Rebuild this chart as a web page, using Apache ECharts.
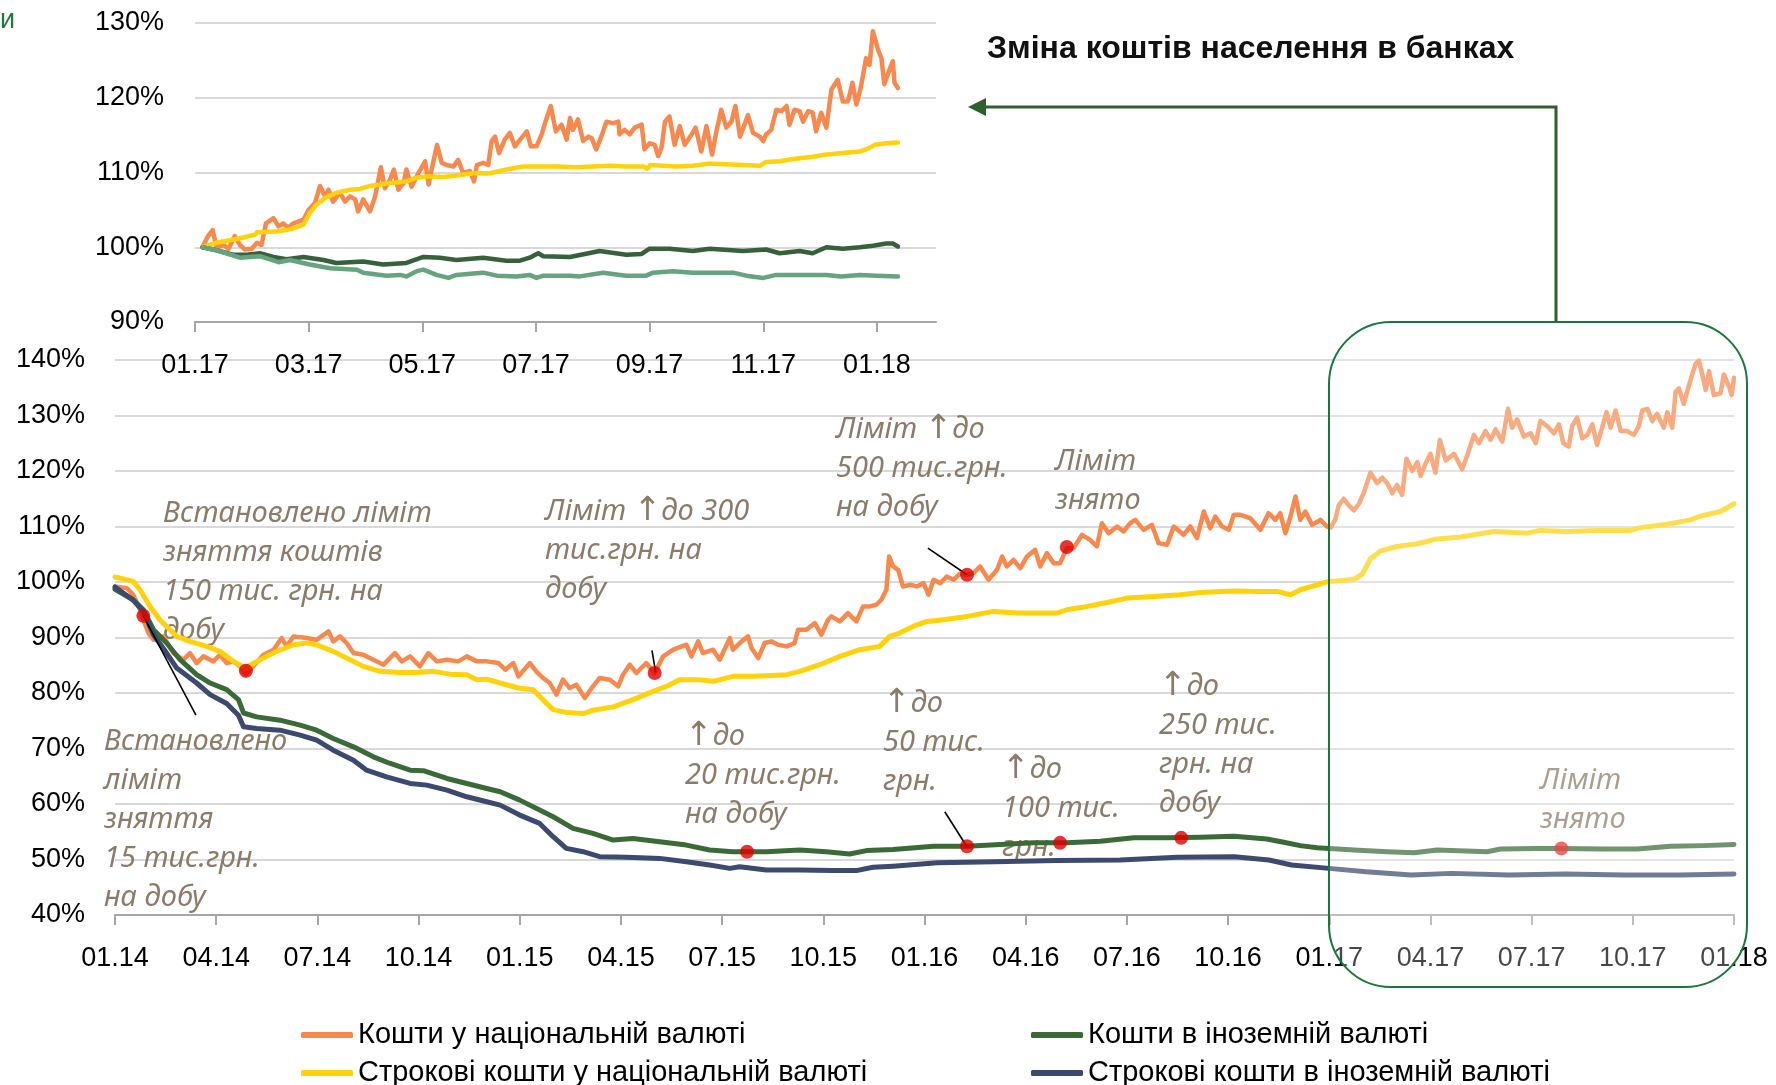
<!DOCTYPE html>
<html>
<head>
<meta charset="utf-8">
<script src="https://cdn.jsdelivr.net/npm/echarts@6/dist/echarts.min.js"></script>
<style>
html,body{margin:0;padding:0;background:#fff;}
#chart{width:1776px;height:1085px;}
</style>
</head>
<body>
<div id="chart"></div>
<script>
// ---------- DATA ----------
const seriesNames = ['Кошти у національній валюті', 'Кошти в іноземній валюті', 'Строкові кошти у національній валюті', 'Строкові кошти в іноземній валюті'];
const titleText = 'Зміна коштів населення в банках';
// main chart: x = months since 01.2014, y = % of 01.2014 level
const mainTickLabels = ['01.14','04.14','07.14','10.14','01.15','04.15','07.15','10.15','01.16','04.16','07.16','10.16','01.17','04.17','07.17','10.17','01.18'];
const insetTickLabels = ['01.17','03.17','05.17','07.17','09.17','11.17','01.18'];

const mainNational = [[0,99.2],[0.35,98.9],[0.54,97.7],[0.74,95.0],[0.84,93.2],[0.99,90.8],[1.14,89.6],[1.43,90.2],[1.73,87.2],[2.03,86.0],[2.22,87.2],[2.42,85.4],[2.62,86.6],[2.92,85.7],[3.11,86.9],[3.31,85.4],[3.51,85.7],[3.71,84.8],[3.88,83.3],[4.1,84.8],[4.4,86.9],[4.7,87.8],[4.94,89.9],[5.09,88.4],[5.29,90.2],[5.68,89.9],[5.98,89.6],[6.33,91.1],[6.47,89.3],[6.67,90.2],[6.87,89.0],[7.07,87.2],[7.36,86.9],[7.66,86.0],[7.96,85.1],[8.3,87.2],[8.5,85.7],[8.75,86.6],[9.04,84.8],[9.29,87.2],[9.54,85.7],[9.84,86.0],[10.18,85.7],[10.43,86.6],[10.73,85.7],[11.02,85.7],[11.37,85.4],[11.57,84.2],[11.81,85.4],[11.96,83.0],[12.3,85.4],[12.49,83.9],[12.69,82.7],[12.89,81.8],[13.09,79.7],[13.28,82.4],[13.48,80.9],[13.68,81.5],[13.93,79.1],[14.17,81.2],[14.37,82.7],[14.67,82.4],[14.92,81.2],[15.06,83.3],[15.26,85.1],[15.46,83.6],[15.75,85.4],[16.0,83.6],[16.25,86.6],[16.55,87.8],[16.94,88.7],[17.09,86.6],[17.29,89.3],[17.43,87.2],[17.73,87.8],[17.93,86.0],[18.23,89.9],[18.32,87.8],[18.52,89.0],[18.77,90.2],[18.87,88.1],[19.07,86.3],[19.26,89.0],[19.46,89.3],[19.66,88.7],[19.91,88.4],[20.15,89.0],[20.25,91.4],[20.5,91.4],[20.75,92.6],[20.94,90.5],[21.14,93.2],[21.24,93.8],[21.49,92.9],[21.73,94.4],[21.98,92.9],[22.18,95.6],[22.38,95.6],[22.57,95.9],[22.72,96.8],[22.87,98.6],[22.95,104.6],[23.07,102.8],[23.22,102.2],[23.36,99.2],[23.58,99.5],[23.77,99.2],[23.97,99.8],[24.12,97.7],[24.27,100.4],[24.47,99.8],[24.66,101.0],[24.86,100.4],[25.05,101.5],[25.26,101.3],[25.45,101.6],[25.65,102.8],[25.9,100.4],[26.15,102.2],[26.3,104.6],[26.44,102.8],[26.64,104.0],[26.84,102.5],[27.04,104.6],[27.28,105.8],[27.43,102.8],[27.63,105.2],[27.83,103.4],[28.02,103.4],[28.22,106.1],[28.42,106.1],[28.67,108.5],[28.91,107.6],[29.11,106.4],[29.26,110.6],[29.46,108.8],[29.71,110.0],[29.9,109.1],[30.1,110.6],[30.25,111.2],[30.5,109.4],[30.74,110.3],[30.94,107.0],[31.19,106.7],[31.39,110.0],[31.68,108.5],[31.88,110.0],[32.08,107.9],[32.28,112.7],[32.47,109.7],[32.62,111.8],[32.82,110.0],[33.02,109.4],[33.17,112.1],[33.36,112.1],[33.66,111.5],[33.96,109.4],[34.2,112.4],[34.4,111.2],[34.55,112.4],[34.7,108.8],[34.85,111.8],[35.0,115.4],[35.14,111.2],[35.29,112.7],[35.49,110.3],[35.74,111.2],[35.93,110.0],[36.04,109.8],[36.18,111.3],[36.28,113.8],[36.43,115.0],[36.58,113.8],[36.73,112.9],[36.88,114.1],[37.02,116.0],[37.22,119.7],[37.42,117.8],[37.57,118.8],[37.72,117.8],[37.87,116.0],[38.01,117.5],[38.16,115.7],[38.29,122.2],[38.46,120.0],[38.61,121.6],[38.71,119.1],[38.85,121.3],[39.0,123.1],[39.15,119.7],[39.28,125.6],[39.45,121.9],[39.7,123.1],[39.94,120.3],[40.09,122.8],[40.29,126.5],[40.44,125.0],[40.63,127.2],[40.78,125.6],[40.93,127.5],[41.13,125.3],[41.3,131.2],[41.42,127.8],[41.57,129.3],[41.77,126.2],[41.97,126.8],[42.12,125.0],[42.26,129.0],[42.46,128.1],[42.66,126.8],[42.81,128.4],[42.94,125.0],[43.1,124.4],[43.2,128.1],[43.35,129.6],[43.5,125.9],[43.65,126.5],[43.8,128.4],[43.94,124.7],[44.09,127.8],[44.22,130.6],[44.34,127.8],[44.49,130.9],[44.64,127.2],[44.83,127.2],[45.03,126.5],[45.18,128.1],[45.28,130.9],[45.43,131.2],[45.58,129.0],[45.72,130.3],[45.92,127.8],[46.02,130.6],[46.17,127.8],[46.27,134.3],[46.37,134.9],[46.51,132.1],[46.61,134.3],[46.73,136.8],[46.86,139.3],[46.96,139.9],[47.06,137.4],[47.16,134.6],[47.26,138.0],[47.4,133.7],[47.6,134.0],[47.7,137.4],[47.85,135.2],[47.93,133.7],[48.0,136.8]];

const mainTermNational = [[0,100.9],[0.54,100.1],[0.74,98.6],[1.04,95.6],[1.33,93.2],[1.83,90.2],[2.22,89.3],[2.72,88.4],[3.11,87.5],[3.51,85.7],[3.86,84.5],[4.3,86.0],[4.79,87.5],[5.29,88.7],[5.68,89.0],[5.98,88.7],[6.47,87.5],[6.97,86.0],[7.36,84.8],[7.86,83.9],[8.45,83.7],[8.95,83.7],[9.44,83.9],[9.93,83.4],[10.43,83.3],[10.73,82.4],[11.02,82.5],[11.42,81.8],[11.96,80.9],[12.4,80.6],[12.69,78.8],[12.99,77.0],[13.38,76.5],[13.88,76.3],[14.17,76.9],[14.77,77.5],[15.36,78.8],[15.95,80.3],[16.35,81.2],[16.74,82.4],[17.34,82.4],[17.73,82.1],[18.32,83.0],[18.92,83.0],[19.31,83.1],[19.91,83.3],[20.3,83.9],[20.89,85.1],[21.49,86.6],[22.08,87.8],[22.67,88.4],[22.97,90.2],[23.26,90.8],[23.66,92.0],[24.07,92.9],[24.57,93.2],[25.26,93.8],[26.05,94.7],[26.74,94.4],[27.43,94.4],[27.93,94.4],[28.22,95.0],[28.82,95.6],[29.41,96.3],[30.0,97.1],[30.79,97.4],[31.58,97.7],[32.18,98.1],[33.17,98.4],[33.96,98.3],[34.45,98.3],[34.85,97.7],[35.14,98.6],[35.64,99.5],[35.98,100.1],[36.23,100.2],[36.73,100.5],[36.98,101.4],[37.22,104.2],[37.52,105.6],[38.01,106.4],[38.61,106.9],[38.9,107.3],[39.1,107.7],[39.89,108.1],[40.29,108.5],[40.88,109.1],[41.87,108.8],[42.26,109.3],[43.05,109.1],[43.94,109.3],[44.93,109.3],[45.23,109.8],[46.02,110.4],[46.71,111.2],[47.01,111.9],[47.6,112.7],[48.0,114.1]];

const mainForeign = [[0,98.7],[0.54,96.8],[0.84,95.0],[1.14,91.4],[1.53,89.0],[1.93,86.0],[2.42,83.3],[2.82,81.8],[3.31,80.6],[3.66,78.8],[3.81,76.4],[4.2,75.7],[4.89,75.1],[5.49,74.2],[5.98,73.3],[6.47,71.8],[7.07,70.3],[7.66,68.5],[8.16,67.3],[8.75,66.1],[9.14,66.0],[9.84,64.6],[10.43,63.7],[11.02,62.8],[11.42,62.2],[12.0,60.7],[12.59,58.9],[12.99,57.7],[13.58,55.6],[14.17,54.7],[14.77,53.5],[15.36,53.8],[16.15,53.2],[16.94,52.6],[17.63,51.7],[18.32,51.4],[19.31,51.4],[20.3,51.7],[21.09,51.4],[21.78,51.0],[22.28,51.6],[23.07,51.8],[24.27,52.4],[25.26,52.4],[26.25,52.7],[27.23,53.0],[28.22,53.0],[29.21,53.3],[30.2,53.9],[31.19,53.9],[32.18,54.0],[33.17,54.2],[34.15,53.7],[34.65,53.1],[35.14,52.5],[35.64,52.1],[36.73,51.7],[37.72,51.4],[38.51,51.2],[39.2,51.7],[40.68,51.4],[41.08,51.9],[42.17,52.0],[42.86,52.0],[44.14,51.9],[45.13,51.9],[46.12,52.4],[47.11,52.5],[48.0,52.7]];

const mainTermForeign = [[0,99.1],[0.54,96.7],[0.84,94.7],[1.14,90.5],[1.53,87.2],[1.83,84.5],[2.42,81.8],[2.82,79.7],[3.31,78.1],[3.66,76.0],[3.81,73.9],[4.2,73.6],[4.89,73.3],[5.49,72.4],[5.98,71.5],[6.47,69.7],[7.07,67.9],[7.46,66.1],[8.05,64.9],[8.75,63.7],[9.24,63.4],[9.84,62.5],[10.43,61.3],[11.02,60.4],[11.42,59.8],[12.0,58.0],[12.59,56.5],[12.99,54.1],[13.38,52.0],[13.88,51.4],[14.37,50.5],[15.16,50.4],[16.15,50.2],[16.94,49.6],[17.63,49.0],[18.23,48.4],[18.52,48.7],[19.31,48.1],[20.3,48.1],[21.29,48.0],[21.98,48.0],[22.47,48.6],[23.07,48.8],[24.38,49.4],[26.07,49.6],[27.9,49.8],[29.8,49.9],[31.5,50.4],[33.19,50.5],[34.21,49.9],[34.88,49.0],[35.99,48.4],[37.09,47.8],[38.43,47.2],[39.62,47.5],[41.33,47.2],[43.02,47.4],[44.72,47.2],[46.41,47.2],[48.0,47.4]];

// event markers (red dots) and leader lines, in data units of the main chart
const eventDots = [[0.84,93.9],[3.88,84.0],[16.0,83.6],[25.26,101.3],[28.22,106.3],[18.74,51.4],[25.26,52.4],[28.02,53.0],[31.61,53.9],[42.88,52.0]];
const leaderLines = [[[0.84,93.9],[2.40,76.0]],[[15.92,87.7],[16.03,83.7]],[[24.1,106.1],[25.26,101.3]],[[24.6,58.6],[25.26,52.3]]];

// inset chart: x = months since 01.2017, y = % of 01.2017 level
const insetNational = [[0.13,100.0],[0.23,101.5],[0.31,102.3],[0.38,100.0],[0.5,100.3],[0.59,99.8],[0.7,101.5],[0.79,100.3],[0.88,99.7],[1.0,99.8],[1.09,100.6],[1.17,100.3],[1.25,103.2],[1.38,103.9],[1.47,102.8],[1.55,103.2],[1.64,102.6],[1.73,103.2],[1.91,103.7],[2.0,105.0],[2.11,105.9],[2.2,108.2],[2.29,106.8],[2.35,107.7],[2.43,106.1],[2.55,107.3],[2.64,106.1],[2.73,106.8],[2.82,106.4],[2.87,104.8],[2.96,106.4],[3.08,104.8],[3.17,106.8],[3.27,110.7],[3.34,107.9],[3.43,109.0],[3.5,110.4],[3.58,107.7],[3.67,108.6],[3.72,110.4],[3.81,108.1],[3.93,109.9],[4.05,111.5],[4.11,108.4],[4.19,111.3],[4.26,113.7],[4.34,111.3],[4.43,111.0],[4.55,110.8],[4.63,111.7],[4.72,109.9],[4.84,110.2],[4.91,108.8],[4.96,111.0],[5.07,111.3],[5.16,111.0],[5.22,114.2],[5.28,114.8],[5.35,112.6],[5.45,114.4],[5.54,115.3],[5.63,113.5],[5.72,114.4],[5.84,115.5],[5.91,113.5],[6.01,113.5],[6.1,115.1],[6.18,117.1],[6.26,118.9],[6.35,115.5],[6.45,116.4],[6.54,114.4],[6.6,117.3],[6.65,115.7],[6.74,117.1],[6.83,114.2],[6.92,114.8],[6.98,114.6],[7.06,113.1],[7.15,114.8],[7.24,116.8],[7.36,116.6],[7.45,116.8],[7.47,115.1],[7.56,115.7],[7.65,115.1],[7.74,116.0],[7.86,116.4],[7.91,113.1],[8.0,113.9],[8.09,113.7],[8.15,112.2],[8.21,113.3],[8.27,116.8],[8.35,117.5],[8.44,113.7],[8.53,116.2],[8.62,113.7],[8.74,115.1],[8.81,116.0],[8.91,112.8],[9.0,116.2],[9.1,112.4],[9.17,115.3],[9.26,118.4],[9.35,116.0],[9.44,116.8],[9.51,118.9],[9.59,114.8],[9.67,116.4],[9.73,117.7],[9.82,115.3],[9.94,114.8],[10.0,114.2],[10.05,115.1],[10.14,115.7],[10.23,118.4],[10.32,118.2],[10.41,118.9],[10.46,116.4],[10.55,118.4],[10.64,118.2],[10.7,116.8],[10.79,118.2],[10.87,118.0],[10.93,115.5],[11.02,118.0],[11.11,116.0],[11.2,121.1],[11.31,122.4],[11.4,119.5],[11.49,119.5],[11.57,122.0],[11.64,119.1],[11.72,121.5],[11.81,125.3],[11.87,124.4],[11.93,128.9],[12.02,126.4],[12.08,125.3],[12.13,121.8],[12.19,123.1],[12.28,124.9],[12.31,122.0],[12.37,121.3]];

const insetTermNational = [[0.13,100.0],[0.38,100.6],[0.79,101.2],[1.06,101.7],[1.09,102.0],[1.44,102.1],[1.67,102.4],[1.91,103.0],[2.02,104.6],[2.14,105.7],[2.29,106.6],[2.49,107.3],[2.73,107.7],[2.9,107.8],[3.08,108.2],[3.43,108.6],[3.72,108.8],[3.9,109.3],[4.08,109.5],[4.37,109.4],[4.6,109.6],[4.9,109.9],[5.19,109.9],[5.48,110.4],[5.77,110.8],[6.07,110.8],[6.36,110.8],[6.71,110.7],[7.0,110.8],[7.3,110.9],[7.59,110.8],[7.89,110.8],[7.96,110.5],[8.01,111.0],[8.47,110.8],[8.76,110.9],[9.06,111.2],[9.35,111.1],[9.64,111.0],[9.94,110.9],[10.05,111.4],[10.29,111.5],[10.52,111.8],[10.87,112.1],[11.11,112.4],[11.4,112.6],[11.7,112.8],[11.87,113.3],[11.96,113.7],[12.16,113.9],[12.37,114.0]];

const insetForeign = [[0.13,100.0],[0.38,99.6],[0.67,99.0],[0.91,99.0],[1.14,99.2],[1.38,98.7],[1.61,98.4],[1.91,98.7],[2.26,98.3],[2.49,97.9],[2.96,98.1],[3.31,97.7],[3.72,97.9],[4.02,98.7],[4.31,98.6],[4.6,98.3],[5.07,98.6],[5.48,98.2],[5.72,98.2],[5.89,98.6],[6.04,99.2],[6.13,98.8],[6.6,98.7],[7.12,99.5],[7.59,99.0],[7.86,99.1],[8.0,99.8],[8.35,99.8],[8.76,99.5],[9.06,99.8],[9.64,99.5],[10.05,99.7],[10.29,99.2],[10.64,99.5],[10.87,99.2],[11.11,100.0],[11.4,99.8],[11.7,100.0],[11.93,100.2],[12.16,100.5],[12.28,100.5],[12.37,100.1]];

const insetTermForeign = [[0.13,100.0],[0.38,99.6],[0.79,98.6],[1.14,98.8],[1.47,98.0],[1.67,98.3],[2.02,97.7],[2.38,97.2],[2.85,97.0],[2.96,96.6],[3.37,96.2],[3.61,96.3],[3.72,96.1],[3.9,96.8],[4.02,97.0],[4.25,96.3],[4.46,95.9],[4.6,96.3],[4.9,96.5],[5.07,96.6],[5.31,96.2],[5.66,96.1],[5.89,96.3],[6.01,95.9],[6.13,96.2],[6.6,96.2],[6.77,96.1],[7.18,96.6],[7.59,96.2],[7.94,96.2],[8.06,96.6],[8.41,96.8],[8.76,96.6],[9.06,96.6],[9.47,96.6],[9.7,96.2],[10.0,95.9],[10.23,96.3],[10.64,96.3],[11.11,96.3],[11.37,96.1],[11.7,96.3],[11.99,96.2],[12.37,96.1]];

const annotations = [
  {text: 'Встановлено ліміт\nзняття коштів\n150 тис. грн. на\nдобу', x: 163, y: 494},
  {text: 'Встановлено\nліміт\nзняття\n15 тис.грн.\nна добу', x: 104, y: 722},
  {text: 'Ліміт ↑до 300\nтис.грн. на\nдобу', x: 545, y: 492},
  {text: 'Ліміт ↑до\n500 тис.грн.\nна добу', x: 836, y: 410},
  {text: 'Ліміт\nзнято', x: 1055, y: 442},
  {text: '↑до\n20 тис.грн.\nна добу', x: 685, y: 717},
  {text: '↑до\n50 тис.\nгрн.', x: 883, y: 684},
  {text: '↑до\n100 тис.\nгрн.', x: 1002, y: 750},
  {text: '↑до\n250 тис.\nгрн. на\nдобу', x: 1159, y: 667},
  {text: 'Ліміт\nзнято', x: 1540, y: 761}
];

// ---------- STYLE ----------
const FONT = '"Liberation Sans", Arial, sans-serif';
const ANN_FONT = '"Noto Sans", "Liberation Sans", sans-serif';
const ANN_COLOR = '#8C7B68';
const colors = {nat: '#F7894E', termNat: '#FFD20A', for: '#3A6B37', termFor: '#3C4A70', insetFor: '#37613A', insetTermFor: '#66A47F'};

const chart = echarts.init(document.getElementById('chart'), null, {renderer: 'canvas'});

function lineSeries(name, data, color, xi, width) {
  return {name, type: 'line', data, xAxisIndex: xi, yAxisIndex: xi, showSymbol: false, symbol: 'none',
    lineStyle: {color, width: width, cap: 'round', join: 'round'}, itemStyle: {color}, z: 3, silent: true};
}

const annGraphics = annotations.map(a => ({
  type: 'text', x: a.x, y: a.y, z: 1,
  style: {
    text: a.text.replace(/↑/g, '{a|↑}'),
    fill: ANN_COLOR, fontFamily: ANN_FONT, fontStyle: 'italic', fontSize: 29, lineHeight: 39,
    verticalAlign: 'top', align: 'left',
    rich: {a: {fontFamily: '"DejaVu Sans", sans-serif', fontStyle: 'normal', fontSize: 33, lineHeight: 39, fill: ANN_COLOR}}
  }
}));

const legendBase = {orient: 'horizontal', padding: 0, itemWidth: 52, itemHeight: 6, icon: 'roundRect', selectedMode: false,
  textStyle: {fontFamily: FONT, fontSize: 29, color: '#000', lineHeight: 32}};
const legendPos = [[301, 1019], [1031, 1019], [301, 1057], [1031, 1057]];

const option = {
  animation: false,
  backgroundColor: '#ffffff',
  title: {text: titleText, left: 987, top: 33, padding: 0,
    textStyle: {fontFamily: FONT, fontWeight: 'bold', fontSize: 32, color: '#111'}},
  legend: seriesNames.map((n, i) => Object.assign({}, legendBase, {data: [n], left: legendPos[i][0], top: legendPos[i][1]})),
  grid: [
    {left: 115, right: 42, top: 360, bottom: 170},
    {left: 195, right: 840, top: 23, bottom: 763}
  ],
  xAxis: [
    {gridIndex: 0, type: 'value', min: 0, max: 48, interval: 3,
      axisLine: {lineStyle: {color: '#A6A6A6', width: 2}},
      axisTick: {show: true, length: 10, lineStyle: {color: '#A6A6A6', width: 2}},
      splitLine: {show: false},
      axisLabel: {margin: 30, fontFamily: FONT, fontSize: 27, color: '#000',
        formatter: v => mainTickLabels[Math.round(v / 3)] || ''}},
    {gridIndex: 1, type: 'value', min: 0, max: 13.04, interval: 2,
      axisLine: {lineStyle: {color: '#A6A6A6', width: 2}},
      axisTick: {show: true, length: 10, lineStyle: {color: '#A6A6A6', width: 2}, customValues: [0,2,4,6,8,10,12]},
      splitLine: {show: false},
      axisLabel: {margin: 30, fontFamily: FONT, fontSize: 27, color: '#000', customValues: [0,2,4,6,8,10,12],
        formatter: v => (Math.abs(v / 2 - Math.round(v / 2)) < 1e-6 ? (insetTickLabels[Math.round(v / 2)] || '') : '')}}
  ],
  yAxis: [
    {gridIndex: 0, type: 'value', min: 40, max: 140, interval: 10,
      axisLine: {show: false}, axisTick: {show: false},
      splitLine: {lineStyle: {color: '#D9D9D9', width: 2}},
      axisLabel: {margin: 30, fontFamily: FONT, fontSize: 27, color: '#000', formatter: '{value}%'}},
    {gridIndex: 1, type: 'value', min: 90, max: 130, interval: 10,
      axisLine: {show: false}, axisTick: {show: false},
      splitLine: {lineStyle: {color: '#D9D9D9', width: 2}},
      axisLabel: {margin: 31, fontFamily: FONT, fontSize: 27, color: '#000', formatter: '{value}%'}}
  ],
  series: [
    lineSeries(seriesNames[0], mainNational, colors.nat, 0, 4.5),
    lineSeries(seriesNames[2], mainTermNational, colors.termNat, 0, 5),
    lineSeries(seriesNames[1], mainForeign, colors.for, 0, 5),
    lineSeries(seriesNames[3], mainTermForeign, colors.termFor, 0, 5),
    {name: 'events', type: 'scatter', data: eventDots, xAxisIndex: 0, yAxisIndex: 0,
      symbolSize: 14, itemStyle: {color: '#E00000'}, z: 6, silent: true,
      markLine: {silent: true, symbol: ['none', 'none'], label: {show: false},
        lineStyle: {color: '#000', width: 1.6, type: 'solid'},
        data: leaderLines.map(l => [{coord: l[0]}, {coord: l[1]}])}},
    lineSeries('inset-' + seriesNames[0], insetNational, colors.nat, 1, 4.5),
    lineSeries('inset-' + seriesNames[2], insetTermNational, colors.termNat, 1, 4.5),
    lineSeries('inset-' + seriesNames[1], insetForeign, colors.insetFor, 1, 4.5),
    lineSeries('inset-' + seriesNames[3], insetTermForeign, colors.insetTermFor, 1, 4.5)
  ],
  graphic: [
    {type: 'text', x: 0, y: 21, z: 1, style: {text: 'и', fill: '#1E7A3C', fontFamily: FONT, fontSize: 27, verticalAlign: 'middle'}},
    ...annGraphics,
    {type: 'rect', z: 20, shape: {x: 1329, y: 322, width: 418, height: 665, r: 62},
      style: {fill: 'rgba(255,255,255,0.28)', stroke: '#17783A', lineWidth: 2}},
    {type: 'polyline', z: 20, shape: {points: [[1556, 322], [1556, 107], [980, 107]]},
      style: {stroke: '#2F5F2F', lineWidth: 3, fill: null}},
    {type: 'polygon', z: 20, shape: {points: [[968, 107], [986, 98], [986, 116]]},
      style: {fill: '#2F5F2F'}}
  ]
};
chart.setOption(option);
</script>
</body>
</html>
